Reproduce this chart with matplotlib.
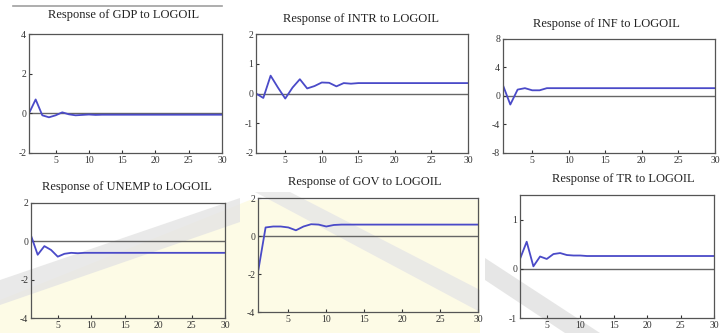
"""Impulse responses to a LOGOIL shock, six panels (EViews style)."""
import matplotlib.pyplot as plt
from matplotlib.patches import Polygon
from matplotlib.lines import Line2D

PERIODS = list(range(1, 31))

GDP = [0.0, 0.7, -0.1, -0.2, -0.1, 0.05, -0.05, -0.1, -0.08, -0.06,
       -0.08, -0.07, -0.07, -0.07, -0.07, -0.07, -0.07, -0.07, -0.07, -0.07,
       -0.07, -0.07, -0.07, -0.07, -0.07, -0.07, -0.07, -0.07, -0.07, -0.07]
INTR = [0.0, -0.15, 0.6, 0.2, -0.17, 0.2, 0.48, 0.17, 0.25, 0.37,
        0.36, 0.24, 0.35, 0.33, 0.35, 0.35, 0.35, 0.35, 0.35, 0.35,
        0.35, 0.35, 0.35, 0.35, 0.35, 0.35, 0.35, 0.35, 0.35, 0.35]
INF = [1.5, -1.2, 0.9, 1.1, 0.8, 0.8, 1.1, 1.1, 1.1, 1.1,
       1.1, 1.1, 1.1, 1.1, 1.1, 1.1, 1.1, 1.1, 1.1, 1.1,
       1.1, 1.1, 1.1, 1.1, 1.1, 1.1, 1.1, 1.1, 1.1, 1.1]
UNEMP = [0.3, -0.7, -0.25, -0.45, -0.8, -0.65, -0.6, -0.62, -0.6, -0.6,
         -0.6, -0.6, -0.6, -0.6, -0.6, -0.6, -0.6, -0.6, -0.6, -0.6,
         -0.6, -0.6, -0.6, -0.6, -0.6, -0.6, -0.6, -0.6, -0.6, -0.6]
GOV = [-1.9, 0.45, 0.5, 0.5, 0.45, 0.3, 0.5, 0.62, 0.6, 0.5,
       0.58, 0.6, 0.6, 0.6, 0.6, 0.6, 0.6, 0.6, 0.6, 0.6,
       0.6, 0.6, 0.6, 0.6, 0.6, 0.6, 0.6, 0.6, 0.6, 0.6]
TR = [0.2, 0.55, 0.05, 0.25, 0.2, 0.3, 0.32, 0.28, 0.27, 0.27,
      0.26, 0.26, 0.26, 0.26, 0.26, 0.26, 0.26, 0.26, 0.26, 0.26,
      0.26, 0.26, 0.26, 0.26, 0.26, 0.26, 0.26, 0.26, 0.26, 0.26]

# (title, series, ylim, yticks, axes rect in px: left, top, right, bottom, title xy px)
PANELS = [
    ("Response of GDP to LOGOIL", GDP, (-2, 4), [-2, 0, 2, 4], (29, 34, 222, 153), (124, 15)),
    ("Response of INTR to LOGOIL", INTR, (-2, 2), [-2, -1, 0, 1, 2], (256, 34, 468, 153), (361, 19)),
    ("Response of INF to LOGOIL", INF, (-8, 8), [-8, -4, 0, 4, 8], (503, 39, 715, 153), (606, 24)),
    ("Response of UNEMP to LOGOIL", UNEMP, (-4, 2), [-4, -2, 0, 2], (31, 203, 225, 318), (127, 187)),
    ("Response of GOV to LOGOIL", GOV, (-4, 2), [-4, -2, 0, 2], (258, 198, 478, 312), (365, 182)),
    ("Response of TR to LOGOIL", TR, (-1, 1.5), [-1, 0, 1], (520, 195, 714, 318), (623, 179)),
]

W, H = 723, 333
plt.rcParams["font.family"] = ["Liberation Serif", "DejaVu Serif"]
plt.rcParams["axes.unicode_minus"] = False

fig = plt.figure(figsize=(W / 100, H / 100), dpi=100)
fig.patch.set_facecolor("white")


def px(x, y):
    return x / W, 1 - y / H


# faint watermark behind the lower row
wm = [
    ([px(0, 333), px(0, 300), px(250, 200), px(480, 200), px(480, 333)], "#fdfbe6", 1.0),
    ([px(0, 305), px(0, 280), px(240, 198), px(240, 222)], "#e4e4e4", 0.8),
    ([px(255, 192), px(290, 192), px(480, 290), px(480, 312)], "#e6e6e6", 0.8),
    ([px(485, 258), px(485, 280), px(565, 333), px(600, 333)], "#e0e0e0", 0.8),
]
for pts, col, a in wm:
    fig.patches.append(Polygon(pts, closed=True, transform=fig.transFigure,
                               facecolor=col, edgecolor="none", alpha=a, zorder=0))

fig.lines.append(Line2D([13 / W, 222 / W], [1 - 6 / H, 1 - 6 / H],
                        transform=fig.transFigure, color="#a0a0a0", lw=1.2))

for title, vals, ylim, yticks, (l, t, r, b), (tx, ty) in PANELS:
    ax = fig.add_axes([l / W, 1 - b / H, (r - l) / W, (b - t) / H])
    ax.set_zorder(2)
    ax.set_facecolor("none")
    ax.axhline(0, color="#666666", lw=1.0, zorder=1)
    ax.plot(PERIODS, vals, color="#4a4ac8", lw=1.3, zorder=2)
    ax.set_xlim(1, 30)
    ax.set_ylim(*ylim)
    ax.set_xticks([5, 10, 15, 20, 25, 30])
    ax.set_yticks(yticks)
    ax.tick_params(direction="in", length=2.5, labelsize=7, colors="#333333", pad=2)
    for s in ax.spines.values():
        s.set_color("#555555")
        s.set_linewidth(0.9)
    fig.text(tx / W, 1 - ty / H, title, ha="center", va="center",
             fontsize=9, color="#222222")

fig.savefig("out.png", dpi=100)
